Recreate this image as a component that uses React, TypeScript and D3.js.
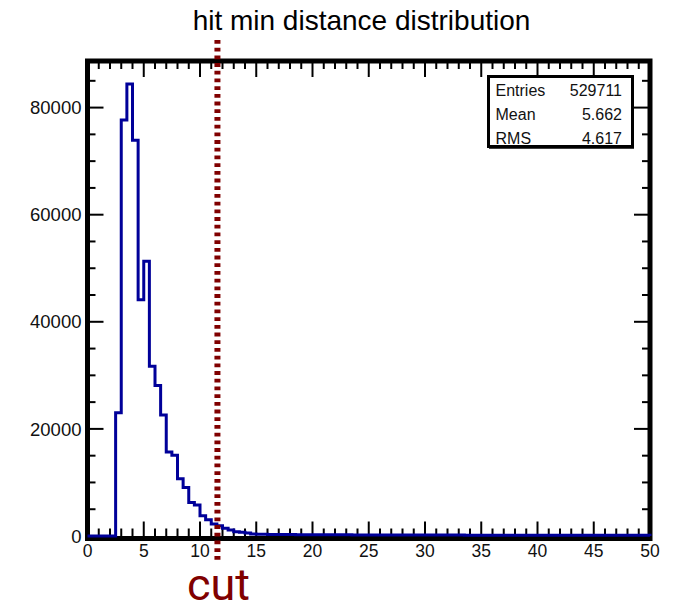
import React from "react";
import * as d3 from "d3";

const title = "hit min distance distribution";
const binLow = 0;
const binHigh = 50;
// bin contents, 100 bins of width 0.5 from 0 to 50
const headCounts = [
  0, 0, 0, 0, 0, 23000, 77700, 84400, 73900, 44100,
  51300, 31700, 28100, 22600, 15700, 15100, 10700, 9050, 6260, 5770,
  3780, 3040, 2230, 1920, 1430, 1120, 800, 690, 560, 370,
];
const tailCounts = [
  330, 310, 300, 290, 285, 270, 265, 255, 250, 245,
  240, 235, 230, 228, 222, 218, 215, 210, 208, 205,
  200, 198, 195, 192, 190, 188, 185, 183, 180, 178,
  176, 174, 172, 170, 168, 166, 165, 163, 161, 160,
  158, 156, 155, 153, 152, 150, 149, 148, 146, 145,
  144, 142, 141, 140, 139, 138, 137, 136, 135, 134,
  133, 132, 131, 130, 129, 128, 127, 126, 125, 124,
];
const counts = [...headCounts, ...tailCounts];
const yMax = 88700;
const xMajorTicks = [0, 5, 10, 15, 20, 25, 30, 35, 40, 45, 50];
const yMajorTicks = [0, 20000, 40000, 60000, 80000];
const statsLabels = ["Entries", "Mean", "RMS"];
const statsValues = ["529711", "5.662", "4.617"];
const cutValue = 11.55;
const cutLabel = "cut";

export default function App() {
  const W = 673;
  const H = 610;
  const x = d3.scaleLinear().domain([binLow, binHigh]).range([87.5, 650]);
  const y = d3.scaleLinear().domain([0, yMax]).range([536, 61]);
  const binW = (binHigh - binLow) / counts.length;

  // step path
  let d = `M${x(binLow)},${y(0)}`;
  counts.forEach((c, i) => {
    const lo = binLow + i * binW;
    const hi = lo + binW;
    d += `L${x(lo)},${y(c)}L${x(hi)},${y(c)}`;
  });
  d += `L${x(binHigh)},${y(0)}`;

  const xMinor = d3.range(0, 51, 1).filter((v) => v % 5 !== 0);
  const yMinor = d3.range(0, yMax, 5000).filter((v) => v % 20000 !== 0);

  const frameTop = 61;
  const frameBottom = 538.5;
  const frameLeft = 87.5;
  const frameRight = 650;
  const font = "'Liberation Sans', Arial, Helvetica, sans-serif";

  return (
    <svg
      width={W}
      height={H}
      style={{ position: "fixed", left: 0, top: 0, background: "#fff" }}
    >
      <rect x={0} y={0} width={W} height={H} fill="#fff" />
      <text
        x={361.5}
        y={30}
        textAnchor="middle"
        fontFamily={font}
        fontSize={28}
        fill="#000"
      >
        {title}
      </text>

      {/* ticks bottom & top */}
      {xMajorTicks.map((t) => (
        <g key={"xm" + t}>
          <line x1={x(t)} x2={x(t)} y1={frameBottom} y2={frameBottom - 17} stroke="#000" strokeWidth={2} />
          <line x1={x(t)} x2={x(t)} y1={frameTop} y2={frameTop + 16} stroke="#000" strokeWidth={2} />
        </g>
      ))}
      {xMinor.map((t) => (
        <g key={"xn" + t}>
          <line x1={x(t)} x2={x(t)} y1={frameBottom} y2={frameBottom - 10} stroke="#000" strokeWidth={2} />
          <line x1={x(t)} x2={x(t)} y1={frameTop} y2={frameTop + 8} stroke="#000" strokeWidth={2} />
        </g>
      ))}
      {yMajorTicks.map((t) => (
        <g key={"ym" + t}>
          <line x1={frameLeft} x2={frameLeft + 16} y1={y(t)} y2={y(t)} stroke="#000" strokeWidth={2} />
          <line x1={frameRight} x2={frameRight - 16} y1={y(t)} y2={y(t)} stroke="#000" strokeWidth={2} />
        </g>
      ))}
      {yMinor.map((t) => (
        <g key={"yn" + t}>
          <line x1={frameLeft} x2={frameLeft + 8} y1={y(t)} y2={y(t)} stroke="#000" strokeWidth={2} />
          <line x1={frameRight} x2={frameRight - 8} y1={y(t)} y2={y(t)} stroke="#000" strokeWidth={2} />
        </g>
      ))}

      {/* frame */}
      <rect
        x={frameLeft}
        y={frameTop}
        width={frameRight - frameLeft}
        height={frameBottom - frameTop}
        fill="none"
        stroke="#000"
        strokeWidth={5}
      />

      {/* histogram */}
      <path d={d} fill="none" stroke="#000099" strokeWidth={3} strokeLinejoin="miter" />

      {/* axis labels */}
      {xMajorTicks.map((t) => (
        <text
          key={"xl" + t}
          x={x(t)}
          y={557}
          textAnchor="middle"
          fontFamily={font}
          fontSize={17.5}
          fill="#111"
        >
          {t}
        </text>
      ))}
      {yMajorTicks.map((t) => (
        <text
          key={"yl" + t}
          x={81.5}
          y={y(t)}
          dy="0.36em"
          textAnchor="end"
          fontFamily={font}
          fontSize={18.5}
          fill="#111"
        >
          {t}
        </text>
      ))}

      {/* stats box */}
      <rect x={488.5} y={76.5} width={144} height={70} fill="#fff" stroke="#000" strokeWidth={3} />
      <line x1={489} x2={634} y1={148} y2={148} stroke="#000" strokeWidth={1.5} />
      {statsLabels.map((s, i) => (
        <g key={s}>
          <text x={495.5} y={96 + i * 24} fontFamily={font} fontSize={16} fill="#111">
            {s}
          </text>
          <text x={622} y={96 + i * 24} textAnchor="end" fontFamily={font} fontSize={16} fill="#111">
            {statsValues[i]}
          </text>
        </g>
      ))}

      {/* cut line */}
      <line
        x1={x(cutValue)}
        x2={x(cutValue)}
        y1={40}
        y2={560}
        stroke="#800000"
        strokeWidth={6}
        strokeDasharray="3.8 3.9"
      />
      <text
        x={x(cutValue) + 1}
        y={600}
        textAnchor="middle"
        fontFamily="Roboto, sans-serif"
        fontSize={45}
        fill="#800000"
      >
        {cutLabel}
      </text>
    </svg>
  );
}
